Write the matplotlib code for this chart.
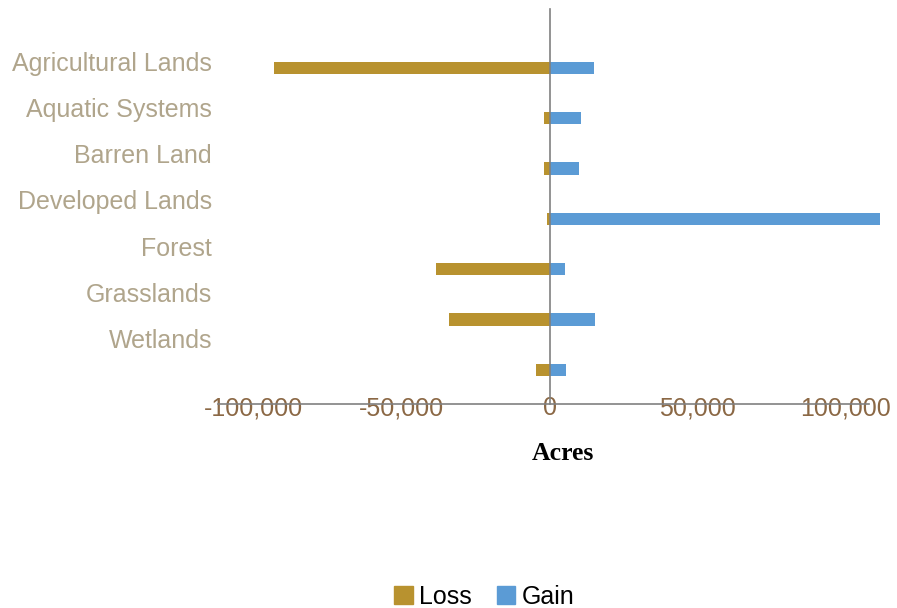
import matplotlib.pyplot as plt
from matplotlib.patches import Patch
from matplotlib.ticker import FuncFormatter

# data (acres)
categories = ["Agricultural Lands", "Aquatic Systems", "Barren Land",
              "Developed Lands", "Forest", "Grasslands", "Wetlands"]
loss = [-93200, -1700, -2000, -700, -38200, -33800, -4400]
gain = [14900, 10800, 10100, 111800, 5400, 15500, 5700]
xticks = [-100000, -50000, 0, 50000, 100000]

loss_color = '#B8922F'
gain_color = '#5B9BD5'
cat_color = '#B0A58C'
tick_color = '#8B6845'

plt.rcParams['font.family'] = ['Liberation Sans', 'DejaVu Sans']

fig = plt.figure(figsize=(8.97, 6.08), dpi=100)
ax = fig.add_axes([218/897, (608-404)/608, 663/897, 395/608])

ypos = list(range(len(categories)))
ax.barh(ypos, loss, height=0.24, color=loss_color, label='Loss')
ax.barh(ypos, gain, height=0.24, color=gain_color, label='Gain')

ax.set_xlim(-112000, 112000)
ax.set_ylim(6.68, -1.17)

for s in ['top', 'right']:
    ax.spines[s].set_visible(False)
ax.spines['left'].set_position(('data', 0))
ax.spines['bottom'].set_bounds(-112000, 108000)
for s in ['left', 'bottom']:
    ax.spines[s].set_color('#808080')
    ax.spines[s].set_linewidth(1.2)

ax.set_yticks([])
ax.set_xticks(xticks)
ax.xaxis.set_major_formatter(FuncFormatter(lambda v, p: f"{int(v):,}"))
ax.tick_params(axis='x', length=0, pad=-5.5, labelsize=18, labelcolor=tick_color)

# category labels sit a little off the bars, like in the source
for i, name in enumerate(categories):
    ax.text(-0.009, i*0.915 - 0.07, name, transform=ax.get_yaxis_transform(),
            ha='right', va='center', fontsize=18, color=cat_color)

fig.text(563/897, 1 - 454/608, "Acres", ha='center', va='center',
         fontsize=18.5, fontweight='bold', family='Liberation Serif')

handles = [Patch(color=loss_color, label='Loss'), Patch(color=gain_color, label='Gain')]
fig.legend(handles=handles, loc='center', bbox_to_anchor=(484/897, 1 - 597/608),
           ncol=2, frameon=False, fontsize=18, handlelength=0.75, handleheight=0.75,
           handletextpad=0.25, columnspacing=1.0)

fig.savefig('out.png', dpi=100)
